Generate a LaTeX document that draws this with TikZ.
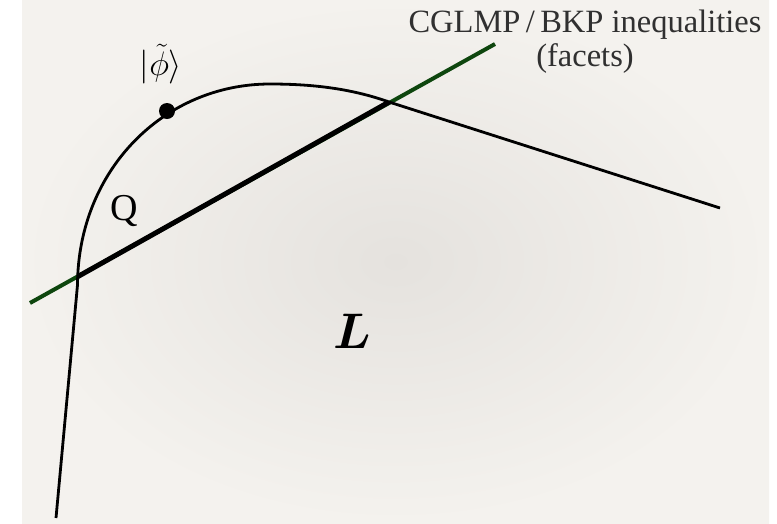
\RequirePackage{fix-cm}
\documentclass[tikz,border=0pt]{standalone}
\usepackage{amsmath}
\usepackage{fontspec}
\setmainfont{Liberation Serif}

\definecolor{paper}{RGB}{244,242,238}
\definecolor{papermid}{RGB}{229,226,222}
\definecolor{facetgreen}{RGB}{14,70,14}
\definecolor{labelgray}{RGB}{48,48,48}

\begin{document}
\begin{tikzpicture}[
    x=1pt, y=-1pt,
    boundary/.style={line width=2.8pt, black, line join=round},
    facetline/.style={line width=4pt, facetgreen},
    every node/.style={inner sep=0pt}
]
\useasboundingbox (0,0) rectangle (777,523);

% --- Background (paper) ---
\fill[white] (0,0) rectangle (777,523);
\shade[inner color=papermid, outer color=paper] (22,0) rectangle (769,523);

% --- Facet: CGLMP / BKP inequality ---
\coordinate (f1) at (30,303);
\coordinate (f2) at (495,44);
\coordinate (x1) at (78,276.5);
\coordinate (x2) at (389,102);
\draw[facetline] (f1) -- (f2);
\draw[line width=5pt, black] (x1) -- (x2);

% --- Quantum set boundary ---
\coordinate (bot) at (56,518);
\coordinate (top) at (270,84);
\coordinate (tail) at (720,208);
\draw[boundary] (bot) -- (77.5,285) .. controls (78,170) and (164,84) .. (top)
    .. controls (310,84) and (350,88) .. (x2) -- (tail);

% --- State on the boundary ---
\node[circle, fill=black, minimum size=16pt] (phi) at (167,111) {};
\node[font=\fontsize{34}{40}\selectfont] (philabel) at (161,64) {$|\tilde{\phi}\rangle$};

% --- Region labels ---
\node[font=\fontsize{38}{42}\selectfont] (Q) at (124,211) {Q};
\node[font=\fontsize{50}{54}\selectfont] (L) at (352,331) {$\boldsymbol{L}$};
\node[font=\fontsize{32.5}{34}\selectfont, text=labelgray, align=center] (facets) at (585,42)
    {CGLMP\,/\,BKP inequalities\\(facets)};

\end{tikzpicture}
\end{document}
